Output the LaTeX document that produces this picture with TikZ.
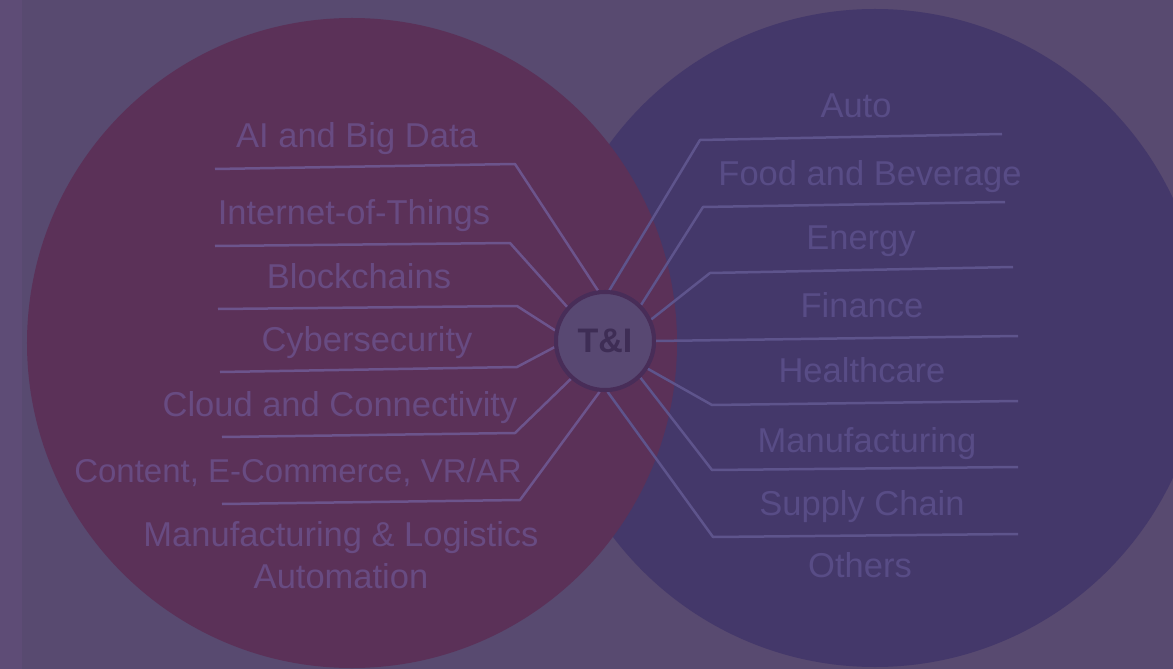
\documentclass[tikz,border=0pt]{standalone}
\usepackage{fontspec}
\setmainfont{Liberation Sans}
\definecolor{bgc}{HTML}{584A70}
\definecolor{stripc}{HTML}{5E4C76}
\definecolor{redc}{HTML}{5B3158}
\definecolor{bluec}{HTML}{44386A}
\definecolor{tifill}{HTML}{584872}
\definecolor{tiborder}{HTML}{482D58}
\definecolor{titext}{HTML}{3E2D55}
\definecolor{ltext}{HTML}{684B82}
\definecolor{rtext}{HTML}{584C86}
\definecolor{lline}{HTML}{6C548C}
\definecolor{rline}{HTML}{5E548C}
\tikzset{
  lbl/.style={font=\fontsize{34.5bp}{42bp}\selectfont, anchor=base, inner sep=0pt},
  leftlbl/.style={lbl, text=ltext},
  rightlbl/.style={lbl, text=rtext},
  leftconn/.style={draw=lline, line width=2.5bp, line join=round},
  rightconn/.style={draw=rline, line width=2.5bp, line join=round},
  hub/.style={circle, minimum size=98bp, inner sep=0pt, fill=tifill, draw=tiborder, line width=4bp,
    text=titext, font=\fontsize{34bp}{40bp}\selectfont\bfseries}
}
\begin{document}
\begin{tikzpicture}[x=1bp, y=-1bp]
\useasboundingbox (0,0) rectangle (1173,669);
\clip (0,0) rectangle (1173,669);
% background
\fill[bgc] (0,0) rectangle (1173,669);
\fill[stripc] (0,0) rectangle (22,669);
% circles
\fill[bluec] (875,338) circle (329bp);
\fill[redc] (352,343) circle (325bp);

% hub
\node[hub] (ti) at (605,341) {T\&I};

% left labels
\node[leftlbl] (l1) at (357,148) {AI and Big Data};
\node[leftlbl] (l2) at (354,225) {Internet-of-Things};
\node[leftlbl] (l3) at (359,288) {Blockchains};
\node[leftlbl] (l4) at (367,351) {Cybersecurity};
\node[leftlbl] (l5) at (340,416) {Cloud and Connectivity};
\node[leftlbl, font=\fontsize{33bp}{40bp}\selectfont] (l6) at (298,482) {Content, E-Commerce, VR/AR};
\node[leftlbl, anchor=center, align=center] (l7) at (341,555.5) {Manufacturing \& Logistics\\Automation};

% right labels
\node[rightlbl] (r1) at (856,118) {Auto};
\node[rightlbl] (r2) at (870,186) {Food and Beverage};
\node[rightlbl] (r3) at (861,249) {Energy};
\node[rightlbl] (r4) at (862,317) {Finance};
\node[rightlbl] (r5) at (862,382) {Healthcare};
\node[rightlbl] (r6) at (867,452) {Manufacturing};
\node[rightlbl] (r7) at (862,515) {Supply Chain};
\node[rightlbl] (r8) at (860,577) {Others};

% left connector coordinates
\coordinate (lb1) at (515,164);  \coordinate (le1) at (215,169);
\coordinate (lb2) at (510,243);  \coordinate (le2) at (215,246);
\coordinate (lb3) at (517,306);  \coordinate (le3) at (218,309);
\coordinate (lb4) at (517,367);  \coordinate (le4) at (220,372);
\coordinate (lb5) at (515,433);  \coordinate (le5) at (222,437);
\coordinate (lb6) at (520,500);  \coordinate (le6) at (222,504);

% right connector coordinates
\coordinate (rb1) at (700,140);  \coordinate (re1) at (1002,134);
\coordinate (rb2) at (703,207);  \coordinate (re2) at (1005,202);
\coordinate (rb3) at (710,273);  \coordinate (re3) at (1013,267);
\coordinate (re4) at (1018,336);
\coordinate (rb5) at (712,405);  \coordinate (re5) at (1018,401);
\coordinate (rb6) at (712,470);  \coordinate (re6) at (1018,467);
\coordinate (rb7) at (713,537);  \coordinate (re7) at (1018,534);

% left connectors
\path[leftconn] (ti.98) -- (lb1) -- (le1);
\path[leftconn] (ti.138) -- (lb2) -- (le2);
\path[leftconn] (ti.168) -- (lb3) -- (le3);
\path[leftconn] (ti.187) -- (lb4) -- (le4);
\path[leftconn] (ti.228) -- (lb5) -- (le5);
\path[leftconn] (ti.264) -- (lb6) -- (le6);

% right connectors
\path[rightconn] (ti.85) -- (rb1) -- (re1);
\path[rightconn] (ti.45) -- (rb2) -- (re2);
\path[rightconn] (ti.25) -- (rb3) -- (re3);
\path[rightconn] (ti.0) -- (re4);
\path[rightconn] (ti.-33) -- (rb5) -- (re5);
\path[rightconn] (ti.-46) -- (rb6) -- (re6);
\path[rightconn] (ti.-87) -- (rb7) -- (re7);

% redraw hub on top of connector ends
\node[hub] at (ti) {T\&I};
\end{tikzpicture}
\end{document}
